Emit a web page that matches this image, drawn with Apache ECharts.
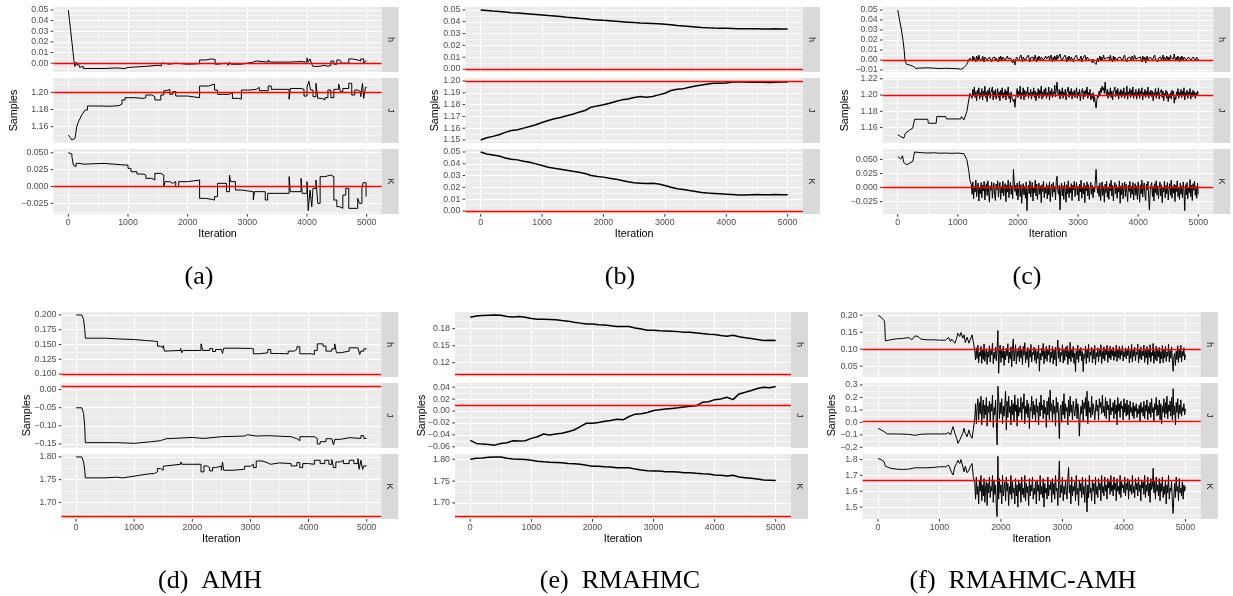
<!DOCTYPE html>
<html><head><meta charset="utf-8">
<script src="https://cdn.jsdelivr.net/npm/echarts@6/dist/echarts.min.js"></script>
<style>html,body{margin:0;padding:0;background:#fff}#c{width:1233px;height:596px}</style>
</head><body><div id="c"></div>
<script>
// ---------------- shared scales ----------------
const iterBreaks = [0, 1000, 2000, 3000, 4000, 5000];
const iterLabels = ['0', '1000', '2000', '3000', '4000', '5000'];
const iterLim = [-250, 5250];
const facetNames = ['h', 'J', 'K'];
const truthTop = [0, 1.2, 0];
const truthBottom = [0.1, 0.01, 1.67];
const captions = ['(a)', '(b)', '(c)', '(d)  AMH', '(e)  RMAHMC', '(f)  RMAHMC-AMH'];

// ---------------- panel (a) : [iteration, value] ----------------
const aH = [[0,0.05],[20,0.04],[40,0.03],[60,0.02],[80,0.01],[95,0.002],[110,-0.003],[130,0.001],[150,-0.002],[170,0.0],[190,-0.004],[210,-0.003],[250,-0.005],[600,-0.0045],[800,-0.005],[950,-0.004],[1000,-0.003],[1300,-0.002],[1500,-0.0025],[1560,0.0],[1600,-0.001],[1700,0.0],[1800,-0.001],[2000,-0.0005],[2200,0.003],[2300,0.004],[2400,0.0035],[2460,-0.001],[2500,0.0],[2650,0.001],[2680,-0.002],[2700,0.001],[2720,-0.001],[2900,0.0],[3000,0.001],[3100,0.002],[3150,0.001],[3350,0.003],[3380,0.001],[3700,0.0015],[3900,0.001],[4000,0.005],[4020,0.001],[4050,0.004],[4080,-0.001],[4100,-0.003],[4200,-0.002],[4300,-0.003],[4350,-0.002],[4400,0.002],[4450,-0.001],[4500,0.003],[4550,0.004],[4580,0.0],[4700,0.004],[4760,0.003],[4850,0.002],[4900,0.004],[4950,0.0],[4980,0.002],[5000,0.002]];
const aJ = [[0,1.1503],[30,1.1475],[60,1.1445],[90,1.1464],[112,1.1455],[125,1.152],[140,1.16],[170,1.1658],[200,1.17],[223,1.1736],[250,1.176],[280,1.1794],[320,1.1841],[500,1.1838],[700,1.1845],[850,1.1864],[900,1.1911],[950,1.1938],[1100,1.193],[1250,1.1938],[1300,1.1969],[1400,1.195],[1450,1.1911],[1550,1.1969],[1600,1.2019],[1650,1.2035],[1700,1.1977],[1750,1.2008],[1800,1.1957],[2000,1.1938],[2200,1.2074],[2350,1.2097],[2450,1.2027],[2500,1.1977],[2700,1.1996],[2750,1.193],[2850,1.1922],[2900,1.2027],[3050,1.2035],[3150,1.2058],[3200,1.2019],[3350,1.2074],[3400,1.2035],[3700,1.192],[3720,1.2045],[3900,1.2035],[3950,1.1957],[4000,1.2058],[4030,1.2132],[4060,1.2027],[4100,1.195],[4150,1.2105],[4180,1.193],[4250,1.1911],[4300,1.1938],[4350,1.2027],[4400,1.1938],[4450,1.2035],[4530,1.2097],[4560,1.2008],[4600,1.2045],[4700,1.2105],[4750,1.1969],[4800,1.2027],[4850,1.2008],[4900,1.195],[4930,1.2105],[4950,1.193],[4980,1.2058],[5000,1.205]];
const aK = [[0,0.05],[30,0.048],[60,0.0441],[85,0.0317],[112,0.0293],[130,0.0342],[195,0.033],[250,0.0342],[600,0.0317],[950,0.0317],[1000,0.0268],[1050,0.0219],[1150,0.0184],[1250,0.0169],[1300,0.012],[1400,0.0095],[1450,0.0194],[1550,0.0169],[1600,-0.0003],[1620,0.0071],[1700,0.0046],[1750,0.0071],[1800,-0.0003],[1850,0.0071],[2000,0.0095],[2200,-0.0176],[2300,-0.0191],[2400,-0.0201],[2450,-0.0151],[2500,0.0046],[2650,-0.0077],[2700,0.017],[2720,0.0071],[2800,-0.0053],[2900,-0.0077],[3100,-0.0201],[3120,-0.0077],[3300,-0.0201],[3340,-0.0102],[3700,0.0145],[3720,-0.0077],[3900,0.012],[3920,-0.0102],[4000,0.0071],[4020,-0.0359],[4050,-0.0053],[4080,-0.03],[4100,-0.0028],[4150,0.0095],[4180,-0.025],[4220,0.0145],[4300,0.017],[4400,0.0145],[4450,-0.0201],[4500,-0.03],[4550,-0.0324],[4600,-0.0127],[4650,-0.0028],[4700,-0.0324],[4850,-0.0176],[4880,-0.025],[4920,-0.0028],[4940,0.0056],[4990,-0.0151],[5000,-0.0151]];

// ---------------- panel (b) : one value every 100 iterations ----------------
const bH = [0.0500,0.0496,0.0491,0.0487,0.0482,0.0477,0.0474,0.0470,0.0466,0.0462,0.0458,0.0453,0.0449,0.0444,0.0439,0.0435,0.0430,0.0426,0.0420,0.0416,0.0412,0.0409,0.0405,0.0401,0.0397,0.0393,0.0390,0.0388,0.0386,0.0383,0.0379,0.0374,0.0368,0.0364,0.0360,0.0356,0.0352,0.0349,0.0347,0.0346,0.0345,0.0343,0.0340,0.0340,0.0341,0.0340,0.0339,0.0339,0.0340,0.0339,0.0339];
const bJ = [1.15,1.152,1.1531,1.1545,1.1565,1.1581,1.1587,1.1601,1.1615,1.1629,1.1649,1.1666,1.168,1.1691,1.1705,1.1719,1.1736,1.175,1.1778,1.1789,1.1798,1.1812,1.1826,1.184,1.1848,1.186,1.1868,1.1862,1.1868,1.1882,1.1896,1.1919,1.193,1.1935,1.1947,1.1958,1.1966,1.1975,1.198,1.198,1.1983,1.1992,1.1994,1.1992,1.1989,1.1992,1.1989,1.1986,1.1989,1.1992,1.1992];
const bK = [0.05,0.0483,0.0475,0.0466,0.0449,0.0438,0.0433,0.0421,0.0413,0.0399,0.0385,0.0371,0.0362,0.0354,0.0346,0.0337,0.0329,0.0317,0.0301,0.0292,0.0287,0.0278,0.027,0.0258,0.0247,0.0239,0.0236,0.0233,0.0236,0.0228,0.0216,0.0202,0.0188,0.0183,0.0174,0.0166,0.0157,0.0152,0.0149,0.0146,0.0143,0.014,0.0135,0.0135,0.0138,0.014,0.0138,0.0138,0.014,0.0138,0.0138];

// ---------------- panel (c) : burn-in [iteration, value], then chain values 1225..5000 ----------------
const cHBurn = [[0,0.05],[30,0.04],[60,0.031],[94,0.017],[110,0.008],[122,-0.001],[140,-0.003],[150,-0.0045],[200,-0.005],[250,-0.006],[300,-0.0083],[400,-0.008],[500,-0.0078],[600,-0.0082],[700,-0.0085],[800,-0.0083],[900,-0.0085],[1000,-0.0087],[1050,-0.0093],[1100,-0.0077],[1150,-0.0044],[1175,-0.001],[1200,0.002]];
const cHChain = [.002,-.001,.004,.000,.003,.001,-.002,.004,.002,.000,.005,.001,-.001,.003,.000,.004,.002,-.002,.003,.001,
.004,.000,.002,-.001,.003,.005,.001,-.002,.002,.004,.000,.003,-.001,.002,.004,.001,-.002,.003,.000,.004,
.002,-.001,.003,.001,.005,.000,.002,-.002,.004,.001,.003,-.001,.002,.000,.004,-.003,.001,-.002,-.005,.000,
.003,.001,.004,-.001,.002,.000,.005,.002,-.002,.003,.001,.004,-.001,.002,.000,.003,.005,.001,-.002,.002,
.004,.000,.003,-.001,.002,.005,.001,-.002,.003,.000,.004,.002,-.001,.003,.001,.005,.000,.002,-.002,.004,
.001,.003,-.001,.004,.000,.002,.005,.001,-.002,.003,.000,.004,.002,-.001,.005,.001,.003,.000,.006,.002,
.004,-.001,.002,.000,.003,.005,.001,-.002,.003,.000,.004,.002,-.001,.003,.001,.004,-.002,.002,.000,.003,
.005,.001,-.001,.003,.000,.002,.004,-.002,.001,.003,.000,.005,.002,-.001,.003,.001,.004,.000,-.002,.002,
.000,-.003,.001,-.002,.000,-.004,-.0045,-.001,.002,-.002,.001,.004,.000,.003,-.001,.002,.005,.001,.003,-.001,
.002,.004,.000,.003,-.001,.005,.001,.002,-.002,.004,.000,.003,.001,.005,-.001,.002,.004,.000,.003,.001,
.004,-.001,.002,.000,.005,.001,.003,-.002,.002,.004,.000,.003,.001,-.001,.004,.002,.000,.005,.005,.001,
.003,-.001,.002,.004,.000,.003,.001,-.002,.004,.002,.000,.003,-.003,.001,.004,.000,.002,-.001,.003,.001,
.004,.000,.002,-.001,.005,.001,.003,.000,-.002,.002,.004,.001,.003,-.001,.002,.005,.000,.003,.001,-.001,
.004,.002,.000,.003,-.001,.005,.002,.000,.004,.001,.006,.002,-.001,.003,.000,.004,.001,-.002,.003,.000,
.004,.002,-.001,.003,.001,.005,.000,.002,-.002,.003,.001,.004,.000,.002,-.001,.003,.001,.004,.000,.002,
.003,-.001,.001];
const cJBurn = [[0,1.151],[50,1.149],[100,1.1469],[120,1.1449],[130,1.1531],[150,1.1551],[200,1.1571],[250,1.1592],[280,1.1702],[500,1.1702],[510,1.1653],[640,1.1653],[650,1.1735],[800,1.1735],[810,1.1706],[1050,1.1706],[1060,1.1735],[1100,1.1694],[1150,1.1796],[1200,1.202]];
const cJChain = [1.203,1.196,1.207,1.199,1.210,1.197,1.204,1.193,1.206,1.201,1.209,1.195,1.203,1.198,1.208,1.194,1.205,1.200,1.211,1.197,
1.204,1.192,1.206,1.199,1.209,1.196,1.203,1.201,1.210,1.194,1.205,1.198,1.207,1.195,1.202,1.208,1.197,1.204,1.193,1.206,
1.200,1.209,1.196,1.203,1.198,1.207,1.194,1.205,1.199,1.210,1.196,1.202,1.191,1.204,1.197,1.199,1.192,1.195,1.185,1.196,
1.202,1.208,1.197,1.205,1.200,1.211,1.195,1.203,1.199,1.209,1.194,1.206,1.198,1.204,1.201,1.210,1.196,1.203,1.199,1.207,
1.195,1.204,1.200,1.209,1.197,1.205,1.193,1.203,1.199,1.208,1.196,1.206,1.201,1.211,1.195,1.204,1.198,1.207,1.200,1.209,
1.196,1.203,1.199,1.210,1.194,1.205,1.200,1.208,1.197,1.204,1.201,1.212,1.198,1.206,1.216,1.203,1.199,1.207,1.195,1.205,
1.200,1.209,1.196,1.204,1.199,1.207,1.194,1.203,1.201,1.210,1.197,1.205,1.199,1.208,1.195,1.204,1.200,1.206,1.197,1.203,
1.209,1.196,1.204,1.199,1.207,1.193,1.202,1.200,1.208,1.195,1.205,1.198,1.206,1.201,1.210,1.196,1.203,1.199,1.207,1.194,
1.201,1.196,1.203,1.192,1.198,1.190,1.184,1.193,1.200,1.197,1.205,1.199,1.208,1.203,1.211,1.206,1.209,1.202,1.216,1.205,
1.199,1.207,1.196,1.204,1.200,1.209,1.197,1.205,1.194,1.203,1.201,1.210,1.198,1.206,1.200,1.208,1.195,1.204,1.199,1.207,
1.197,1.205,1.200,1.209,1.196,1.203,1.199,1.211,1.195,1.204,1.201,1.208,1.197,1.206,1.199,1.210,1.196,1.203,1.200,1.207,
1.195,1.204,1.199,1.208,1.196,1.205,1.201,1.209,1.194,1.203,1.200,1.207,1.197,1.205,1.199,1.210,1.196,1.204,1.200,1.206,
1.198,1.205,1.193,1.203,1.200,1.208,1.196,1.204,1.199,1.209,1.195,1.203,1.201,1.207,1.197,1.205,1.193,1.202,1.199,1.206,
1.196,1.204,1.192,1.201,1.197,1.203,1.195,1.206,1.199,1.205,1.190,1.198,1.194,1.204,1.200,1.208,1.196,1.203,1.199,1.207,
1.197,1.205,1.200,1.209,1.194,1.203,1.199,1.206,1.196,1.204,1.201,1.208,1.195,1.203,1.198,1.206,1.200,1.204,1.196,1.203,
1.199,1.205,1.201];
const cKBurn = [[0,0.0554],[50,0.0506],[80,0.0565],[100,0.0446],[150,0.0405],[180,0.0375],[200,0.0435],[250,0.0464],[280,0.0631],[400,0.062],[500,0.0613],[600,0.0618],[700,0.061],[800,0.0613],[900,0.0608],[1000,0.0613],[1100,0.0601],[1150,0.0494],[1180,0.0315],[1200,0.0137]];
const cKChain = [.005,-.012,.010,-.020,.002,-.008,.013,-.016,-.003,.008,-.024,.001,-.011,.009,-.018,.004,-.006,.011,-.022,-.001,
.007,-.014,.012,-.009,-.026,.003,-.005,.010,-.019,.000,.008,-.013,-.023,.006,-.004,.012,-.017,-.002,.009,-.021,
.002,-.010,.011,-.015,-.003,.007,-.025,.004,-.008,.013,-.018,-.001,.009,-.012,.003,-.020,.032,.010,-.007,.004,
-.014,.008,-.022,-.002,.011,-.016,.005,-.028,-.004,.007,-.013,.002,-.019,.010,-.041,-.006,.004,-.011,.012,-.017,
-.003,.009,-.024,.001,-.009,.013,-.015,.006,-.021,-.002,.008,-.012,.003,-.027,.005,-.007,.011,-.018,.000,-.010,
.007,-.020,.004,-.013,.010,-.025,-.001,.006,-.016,.009,-.008,.002,-.022,.011,.020,-.005,-.012,.004,-.040,-.003,
.008,-.015,.003,-.021,.010,-.007,-.026,.005,-.011,.012,-.018,.001,-.009,.007,-.023,.004,-.004,.011,-.016,-.001,
.009,-.013,.002,-.024,.006,-.008,.013,-.019,.000,-.011,.008,-.027,.003,-.006,.010,-.015,.005,-.021,-.002,.009,
-.012,.004,-.018,.001,-.008,.012,.032,.006,-.010,.003,-.016,.008,-.023,-.004,.010,-.014,.002,-.026,.006,-.009,
.011,-.017,.000,-.021,.007,-.006,.013,-.015,.004,-.024,-.002,.009,-.011,.005,-.019,.001,-.008,.012,-.028,.003,
-.013,.008,-.020,-.001,.010,-.016,.006,-.009,-.025,.004,-.007,.011,-.018,.002,-.012,.009,-.022,-.003,.007,-.014,
.003,-.021,.010,-.008,-.026,.005,-.011,.013,-.017,.000,.008,-.014,-.023,.006,-.004,.011,-.019,-.040,-.006,.004,
.009,-.016,.002,-.024,.007,-.009,.012,-.013,.003,-.020,-.002,.010,-.015,.005,-.027,.001,-.008,.011,-.018,.004,
-.011,.009,-.022,-.003,.007,-.014,.013,-.019,.002,-.010,.006,-.025,.004,-.007,.012,-.016,.000,-.021,.008,-.012,
.003,-.018,.010,-.006,-.041,.005,-.013,.009,-.020,.001,-.009,.014,-.016,.004,-.023,.007,-.005,.011,-.014,.002,
-.019,.008,-.012];
const cChainStart = 1225;

// ---------------- panel (d) AMH : [iteration, value] ----------------
const dH = [[0,0.2],[100,0.1989],[130,0.1921],[150,0.1753],[160,0.1607],[500,0.1596],[700,0.1584],[1000,0.1567],[1200,0.1556],[1350,0.1551],[1400,0.1472],[1450,0.1444],[1500,0.1483],[1520,0.1388],[1550,0.1399],[1800,0.1433],[1820,0.136],[1840,0.1399],[2150,0.1511],[2180,0.1399],[2300,0.1433],[2350,0.1382],[2400,0.1416],[2500,0.1438],[2520,0.1348],[2540,0.1438],[2750,0.1433],[3000,0.1427],[3050,0.1343],[3150,0.136],[3300,0.1416],[3350,0.1348],[3500,0.1343],[3650,0.1388],[3750,0.1416],[3800,0.1461],[3850,0.1343],[4050,0.1331],[4100,0.1399],[4150,0.1511],[4250,0.1472],[4300,0.1388],[4400,0.1427],[4450,0.1511],[4480,0.136],[4550,0.1388],[4700,0.1444],[4850,0.1427],[4880,0.1331],[4900,0.1388],[4950,0.1427],[5000,0.1427]];
const dJ = [[0,-0.0503],[100,-0.0531],[130,-0.0659],[150,-0.1024],[160,-0.1463],[700,-0.1482],[1000,-0.1436],[1300,-0.1409],[1450,-0.1354],[1550,-0.1335],[1800,-0.1317],[2000,-0.1335],[2100,-0.1345],[2200,-0.1299],[2500,-0.128],[2900,-0.1244],[2950,-0.128],[3100,-0.1271],[3300,-0.1299],[3700,-0.1354],[3800,-0.1409],[3850,-0.1299],[4100,-0.1345],[4150,-0.15],[4200,-0.1436],[4300,-0.1354],[4400,-0.1372],[4430,-0.1527],[4450,-0.1372],[4550,-0.1326],[4700,-0.1345],[4900,-0.1271],[4950,-0.1345],[5000,-0.1354]];
const dK = [[0,1.8],[100,1.7985],[130,1.789],[150,1.7708],[160,1.754],[500,1.7555],[700,1.754],[800,1.7577],[1000,1.7599],[1100,1.7628],[1250,1.7635],[1350,1.7672],[1400,1.7745],[1450,1.7708],[1500,1.7796],[1530,1.7839],[1800,1.789],[1820,1.7839],[2150,1.7672],[2200,1.7803],[2250,1.7766],[2300,1.7693],[2350,1.7766],[2400,1.7796],[2500,1.7708],[2520,1.789],[2540,1.7708],[2700,1.773],[2900,1.7796],[3000,1.7839],[3050,1.7766],[3100,1.7912],[3200,1.7869],[3300,1.7839],[3350,1.7869],[3500,1.7854],[3700,1.7803],[3800,1.7876],[3850,1.7766],[3900,1.7854],[4000,1.7839],[4100,1.7927],[4200,1.7854],[4280,1.7927],[4350,1.7839],[4400,1.7942],[4430,1.7766],[4470,1.789],[4550,1.7927],[4600,1.7854],[4700,1.7927],[4780,1.7854],[4850,1.7964],[4870,1.773],[4900,1.7927],[4930,1.7723],[4950,1.7803],[5000,1.7803]];

// ---------------- panel (e) RMAHMC : one value every 100 iterations ----------------
const eH = [0.2002,0.2025,0.2031,0.2037,0.2042,0.2037,0.2013,0.2008,0.2013,0.2002,0.1979,0.1967,0.1967,0.1962,0.1956,0.1944,0.1933,0.1915,0.1898,0.1881,0.1881,0.1869,0.1863,0.1852,0.184,0.184,0.184,0.1812,0.1794,0.1771,0.1771,0.1765,0.176,0.1754,0.1748,0.1737,0.1737,0.1725,0.1713,0.1702,0.1696,0.1679,0.1667,0.1685,0.1656,0.1638,0.1627,0.161,0.1592,0.1598,0.1592];
const eJ = [-0.0493,-0.0543,-0.0555,-0.056,-0.0572,-0.0543,-0.0532,-0.0498,-0.0504,-0.0498,-0.0459,-0.0431,-0.0385,-0.0402,-0.0385,-0.0374,-0.0346,-0.0318,-0.0261,-0.0205,-0.0205,-0.0193,-0.0171,-0.0159,-0.0137,-0.0148,-0.0092,-0.0052,-0.0046,-0.0024,0.001,0.0021,0.0033,0.0044,0.0055,0.0067,0.0078,0.0089,0.0146,0.0157,0.0191,0.0202,0.023,0.0191,0.0287,0.0315,0.0344,0.0377,0.04,0.0389,0.0411];
const eK = [1.8,1.8023,1.803,1.8045,1.8053,1.8053,1.8023,1.8008,1.8,1.7992,1.7977,1.7955,1.794,1.7932,1.7925,1.7917,1.7902,1.7895,1.7887,1.7865,1.7842,1.7842,1.7827,1.782,1.7805,1.7805,1.7805,1.7774,1.7752,1.7737,1.7729,1.7729,1.7714,1.7714,1.7707,1.7692,1.7692,1.7677,1.7669,1.7662,1.7639,1.7632,1.7617,1.7632,1.7594,1.7579,1.7564,1.7549,1.7526,1.7519,1.7511];

// ---------------- panel (f) RMAHMC-AMH : burn-in pairs, then chain values 1575..5000 ----------------
const fHBurn = [[0,0.2],[50,0.1941],[100,0.1843],[110,0.1765],[120,0.1245],[150,0.1294],[200,0.1275],[300,0.1304],[400,0.1314],[500,0.1343],[550,0.1275],[600,0.1392],[650,0.1373],[700,0.1294],[800,0.1275],[900,0.1275],[1000,0.1265],[1100,0.1265],[1150,0.1343],[1180,0.1225],[1200,0.1294],[1250,0.1176],[1280,0.1324],[1300,0.147],[1330,0.1373],[1350,0.149],[1380,0.1324],[1400,0.1422],[1420,0.1196],[1450,0.1353],[1480,0.1176],[1500,0.1275],[1530,0.1422],[1550,0.1225]];
const fHChain = [.095,.068,.104,.073,.112,.060,.090,.079,.108,.058,.097,.070,.115,.064,.087,.101,.055,.093,.076,.110,
.062,.098,.083,.118,.057,.091,.072,.106,.066,.100,.155,.029,.088,.112,.061,.096,.074,.109,.052,.094,
.069,.103,.080,.116,.059,.092,.071,.107,.048,.099,.130,.065,.089,.113,.056,.095,.078,.104,.063,.110,
.074,.097,.054,.108,.082,.119,.060,.093,.070,.105,.047,.098,.076,.114,.062,.090,.084,.106,.066,.101,
.058,.094,.072,.111,.035,.088,.068,.103,.079,.117,.057,.095,.071,.108,.064,.099,.083,.112,.061,.092,
.075,.109,.056,.097,.069,.106,.050,.096,.127,.073,.104,.062,.091,.081,.113,.059,.098,.067,.105,.078,
.110,.055,.094,.071,.120,.063,.100,.076,.108,.058,.089,.034,.095,.070,.112,.061,.097,.080,.105,.066,
.093,.034,.086,.073,.109,.057,.099,.075,.114,.062,.092,.082,.106,.060,.097,.071,.111,.054,.090,.077,
.104,.063,.096,.079,.113,.058,.093,.072,.107,.066,.100,.083,.111,.061,.095,.074,.109,.069,.098,.080,
.106,.067,.094,.078,.112,.064,.099,.075,.108,.070,.096,.082,.110,.065,.093,.077,.104,.071,.101,.081,
.109,.060,.095,.073,.114,.062,.097,.079,.106,.066,.092,.084,.115,.059,.098,.072,.107,.068,.094,.080,
.112,.061,.096,.074,.108,.055,.099,.076,.113,.063,.090,.081,.117,.058,.094,.070,.109,.065,.101,.077,
.105,.058,.093,.071,.111,.060,.099,.074,.108,.064,.092,.079,.114,.062,.096,.073,.107,.066,.035,.078,
.088,.052,.094,.069,.110,.061,.097,.075,.112,.063,.093,.080,.104,.068,.084];
const fJBurn = [[0,-0.0468],[50,-0.0602],[100,-0.0737],[150,-0.0925],[300,-0.0925],[500,-0.0952],[600,-0.1032],[700,-0.0952],[800,-0.0925],[1100,-0.0925],[1150,-0.0817],[1180,-0.1005],[1200,-0.0656],[1220,-0.0333],[1250,-0.0871],[1280,-0.1274],[1300,-0.1677],[1330,-0.1409],[1350,-0.1543],[1380,-0.0871],[1400,-0.0468],[1420,-0.0871],[1450,-0.114],[1480,-0.06],[1500,-0.1005],[1530,-0.1274],[1550,-0.06]];
const fJChain = [.040,.150,-.010,.120,.190,.020,.160,.070,.210,-.020,.110,.180,.030,.140,.060,.200,-.030,.130,.080,.170,
.010,.150,.090,.220,-.040,.120,.060,.180,.000,-.180,.290,.200,.030,.160,.070,.190,-.010,.130,.050,.140,
.250,-.060,.170,.040,.210,.080,.130,-.020,.180,.060,.150,.010,.220,.090,.140,-.030,.190,.050,.120,.080,
.200,.020,.160,.110,.230,-.010,.130,.070,.180,.040,.150,-.050,.120,.090,.210,.030,.170,.060,.140,.010,
.190,.080,.130,-.020,.160,.050,.220,.100,.140,.030,.180,.070,.120,-.040,.170,.060,.200,.020,.260,.090,
.150,.010,.180,.070,.130,-.030,.200,.080,.160,.040,-.130,.110,.140,.000,.170,.060,.230,.030,.150,.090,
.120,-.020,.180,.050,.210,.080,.140,.020,.170,.100,.050,.060,.190,.030,.150,.090,-.110,.040,.130,.070,
.180,.010,.160,.110,.200,.050,.250,-.010,.170,.080,.120,.040,.210,.060,.150,.100,.020,.030,.180,.090,
.140,.020,.190,.120,.160,.070,.220,.080,.130,.050,.200,.030,.170,.100,.140,.010,.190,.060,.120,.090,
.160,.030,.180,.070,.140,-.020,.200,.090,.150,.040,.170,.110,.130,.020,.190,.080,.150,.050,.180,.060,
.140,.020,.170,.080,.120,.050,.160,.030,.130,.090,.150,.040,.110,.070,.140,.010,.160,.080,.120,.050,
.170,.030,.140,.090,.180,.020,.130,.070,.160,.040,.190,.080,.120,.010,.150,.100,.200,.050,.140,.060,
.180,.020,.150,-.010,.130,.080,.190,.040,.160,.070,.210,.030,.140,.090,.170,.050,.200,.020,.270,.060,
.130,-.020,.160,.080,.190,.030,.140,.070,.180,.050,.120,.090,.150,.060,.110];
const fKBurn = [[0,1.8063],[50,1.8],[100,1.7854],[120,1.7583],[150,1.7479],[200,1.7458],[300,1.7396],[400,1.7375],[500,1.7396],[600,1.7479],[800,1.7479],[900,1.75],[1000,1.7542],[1100,1.7542],[1150,1.7646],[1180,1.7542],[1200,1.7167],[1220,1.7021],[1250,1.7542],[1280,1.775],[1300,1.7958],[1330,1.775],[1350,1.8],[1380,1.7542],[1400,1.7229],[1420,1.7583],[1450,1.7167],[1480,1.7333],[1500,1.7542],[1530,1.775],[1550,1.6917]];
const fKChain = [1.650,1.550,1.690,1.580,1.630,1.520,1.670,1.600,1.700,1.540,1.640,1.570,1.680,1.530,1.620,1.660,1.510,1.650,1.590,1.690,
1.560,1.630,1.600,1.700,1.530,1.670,1.580,1.640,1.500,1.440,1.820,1.550,1.680,1.590,1.640,1.520,1.700,1.570,1.620,1.660,
1.540,1.690,1.600,1.650,1.510,1.630,1.580,1.700,1.550,1.660,1.590,1.620,1.520,1.680,1.570,1.640,1.500,1.670,1.600,1.650,
1.530,1.690,1.580,1.620,1.560,1.700,1.540,1.650,1.590,1.630,1.510,1.680,1.570,1.640,1.600,1.690,1.550,1.620,1.580,1.660,
1.520,1.670,1.600,1.640,1.540,1.700,1.580,1.630,1.560,1.680,1.500,1.650,1.590,1.620,1.550,1.690,1.570,1.640,1.610,1.660,
1.530,1.680,1.580,1.650,1.550,1.700,1.600,1.620,1.510,1.660,1.790,1.560,1.640,1.590,1.690,1.540,1.630,1.580,1.670,1.600,
1.550,1.680,1.750,1.590,1.640,1.520,1.690,1.570,1.630,1.600,1.660,1.540,1.700,1.580,1.620,1.510,1.670,1.600,1.650,1.560,
1.690,1.580,1.630,1.530,1.680,1.600,1.470,1.640,1.560,1.700,1.590,1.620,1.540,1.670,1.600,1.650,1.520,1.690,1.580,1.630,
1.560,1.680,1.610,1.650,1.540,1.700,1.590,1.630,1.570,1.690,1.600,1.640,1.550,1.680,1.620,1.660,1.580,1.700,1.600,1.640,
1.570,1.690,1.610,1.650,1.540,1.680,1.600,1.630,1.580,1.700,1.560,1.660,1.620,1.640,1.590,1.690,1.570,1.650,1.610,1.680,
1.550,1.670,1.600,1.640,1.580,1.700,1.590,1.630,1.560,1.680,1.610,1.650,1.570,1.690,1.600,1.640,1.540,1.670,1.620,1.660,
1.580,1.700,1.560,1.640,1.600,1.690,1.570,1.650,1.530,1.680,1.610,1.630,1.745,1.590,1.660,1.550,1.690,1.600,1.640,1.570,
1.680,1.540,1.650,1.600,1.690,1.560,1.630,1.580,1.670,1.520,1.640,1.590,1.700,1.550,1.620,1.600,1.660,1.530,1.460,1.580,
1.650,1.560,1.690,1.600,1.630,1.540,1.680,1.590,1.620,1.570,1.660,1.550,1.640,1.600,1.630];
const fChainStart = 1575;

// ---------------- y scales (limits, breaks, labels) ----------------
const aHLim=[-0.0083,0.0528], aHBreaks=[0,0.01,0.02,0.03,0.04,0.05], aHLabels=['0.00','0.01','0.02','0.03','0.04','0.05'];
const aJLim=[1.141,1.2167], aJBreaks=[1.16,1.18,1.2], aJLabels=['1.16','1.18','1.20'];
const aKLim=[-0.0408,0.0555], aKBreaks=[-0.025,0,0.025,0.05], aKLabels=['\u22120.025','0.000','0.025','0.050'];
const bHLim=[-0.0025,0.0525], bHBreaks=[0,0.01,0.02,0.03,0.04,0.05], bHLabels=['0.00','0.01','0.02','0.03','0.04','0.05'];
const bJLim=[1.1475,1.2025], bJBreaks=[1.15,1.16,1.17,1.18,1.19,1.2], bJLabels=['1.15','1.16','1.17','1.18','1.19','1.20'];
const bKLim=[-0.0025,0.0525], bKBreaks=[0,0.01,0.02,0.03,0.04,0.05], bKLabels=['0.00','0.01','0.02','0.03','0.04','0.05'];
const cHLim=[-0.012,0.053], cHBreaks=[-0.01,0,0.01,0.02,0.03,0.04,0.05], cHLabels=['\u22120.01','0.00','0.01','0.02','0.03','0.04','0.05'];
const cJLim=[1.141,1.221], cJBreaks=[1.16,1.18,1.2,1.22], cJLabels=['1.16','1.18','1.20','1.22'];
const cKLim=[-0.047,0.0685], cKBreaks=[-0.025,0,0.025,0.05], cKLabels=['\u22120.025','0.000','0.025','0.050'];
const dHLim=[0.095,0.205], dHBreaks=[0.1,0.125,0.15,0.175,0.2], dHLabels=['0.100','0.125','0.150','0.175','0.200'];
const dJLim=[-0.161,0.018], dJBreaks=[-0.15,-0.1,-0.05,0], dJLabels=['\u22120.15','\u22120.10','\u22120.05','0.00'];
const dKLim=[1.6635,1.8065], dKBreaks=[1.7,1.75,1.8], dKLabels=['1.70','1.75','1.80'];
const eHLim=[0.0948,0.2094], eHBreaks=[0.12,0.15,0.18], eHLabels=['0.12','0.15','0.18'];
const eJLim=[-0.062,0.047], eJBreaks=[-0.06,-0.04,-0.02,0,0.02,0.04], eJLabels=['\u22120.06','\u22120.04','\u22120.02','0.00','0.02','0.04'];
const eKLim=[1.6632,1.812], eKBreaks=[1.7,1.75,1.8], eKLabels=['1.70','1.75','1.80'];
const fHLim=[0.018,0.2095], fHBreaks=[0.05,0.1,0.15,0.2], fHLabels=['0.05','0.10','0.15','0.20'];
const fJLim=[-0.205,0.316], fJBreaks=[-0.2,-0.1,0,0.1,0.2,0.3], fJLabels=['\u22120.2','\u22120.1','0.0','0.1','0.2','0.3'];
const fKLim=[1.425,1.835], fKBreaks=[1.5,1.6,1.7,1.8], fKLabels=['1.5','1.6','1.7','1.8'];

// ---------------- helpers to assemble data for the library ----------------
function every100(vals) { return vals.map((v, i) => [i * 100, v]); }
function chained(burn, start, vals) {
  const n = vals.length, st = (5000 - start) / (n - 1);
  return burn.concat(vals.map((v, i) => [start + i * st, v]));
}
function minorOf(br, lim) {
  const out = [];
  const s = br.length > 1 ? br[1] - br[0] : 0;
  const ext = [br[0] - s].concat(br, [br[br.length - 1] + s]);
  for (let i = 0; i < ext.length - 1; i++) {
    const m = (ext[i] + ext[i + 1]) / 2;
    if (m >= lim[0] && m <= lim[1]) out.push(m);
  }
  return out;
}

const panels = [
  { id: 'a', step: true, lw: 1, truth: truthTop, data: [aH, aJ, aK],
    y: [[aHLim, aHBreaks, aHLabels], [aJLim, aJBreaks, aJLabels], [aKLim, aKBreaks, aKLabels]] },
  { id: 'b', step: false, lw: 1.5, truth: truthTop, data: [every100(bH), every100(bJ), every100(bK)],
    y: [[bHLim, bHBreaks, bHLabels], [bJLim, bJBreaks, bJLabels], [bKLim, bKBreaks, bKLabels]] },
  { id: 'c', step: false, lw: 1, truth: truthTop,
    data: [chained(cHBurn, cChainStart, cHChain), chained(cJBurn, cChainStart, cJChain), chained(cKBurn, cChainStart, cKChain)],
    y: [[cHLim, cHBreaks, cHLabels], [cJLim, cJBreaks, cJLabels], [cKLim, cKBreaks, cKLabels]] },
  { id: 'd', step: true, lw: 1, truth: truthBottom, data: [dH, dJ, dK],
    y: [[dHLim, dHBreaks, dHLabels], [dJLim, dJBreaks, dJLabels], [dKLim, dKBreaks, dKLabels]] },
  { id: 'e', step: false, lw: 1.5, truth: truthBottom, data: [every100(eH), every100(eJ), every100(eK)],
    y: [[eHLim, eHBreaks, eHLabels], [eJLim, eJBreaks, eJLabels], [eKLim, eKBreaks, eKLabels]] },
  { id: 'f', step: false, lw: 1, truth: truthBottom,
    data: [chained(fHBurn, fChainStart, fHChain), chained(fJBurn, fChainStart, fJChain), chained(fKBurn, fChainStart, fKChain)],
    y: [[fHLim, fHBreaks, fHLabels], [fJLim, fJBreaks, fJLabels], [fKLim, fKBreaks, fKLabels]] }
];

// ---------------- layout (pixels) ----------------
const LAYOUT = {
  a: { x0: 53.4, x1: 381.6, top: 7,   samplesX: 14,    capX: 199,  capY: 277 },
  b: { x0: 465.3, x1: 803.0, top: 7,  samplesX: 435,   capX: 620,  capY: 277 },
  c: { x0: 882.7, x1: 1213.3, top: 7, samplesX: 845,   capX: 1027, capY: 277 },
  d: { x0: 61.5, x1: 381.2, top: 312, samplesX: 27,    capX: 210,  capY: 581 },
  e: { x0: 455.0, x1: 791.0, top: 312, samplesX: 421.7, capX: 620, capY: 581 },
  f: { x0: 862.6, x1: 1200.8, top: 312, samplesX: 831.7, capX: 1023, capY: 581 }
};
const FH = 65, GAP = 6, STRIP = 17, TICK = 2.7;
const SANS = '"Liberation Sans", Arial, Helvetica, sans-serif';
const SERIF = '"Liberation Serif", "DejaVu Serif", serif';
const TICK_COL = '#4D4D4D';

const option = { animation: false, backgroundColor: '#ffffff', grid: [], xAxis: [], yAxis: [], series: [], graphic: { elements: [] } };
const G = option.graphic.elements;
const iterMinor = minorOf(iterBreaks, iterLim);
const tickJobs = [];

panels.forEach((p, pi) => {
  const L = LAYOUT[p.id];
  p.y.forEach((ys, k) => {
    const [lim, br, lb] = ys;
    const top = L.top + k * (FH + GAP);
    const gi = option.grid.length;
    option.grid.push({ left: L.x0, top: top, width: L.x1 - L.x0, height: FH, show: true,
      backgroundColor: '#EBEBEB', borderWidth: 0, containLabel: false });
    const bottom = k === 2;
    const xi = option.xAxis.length;
    option.xAxis.push({ type: 'value', gridIndex: gi, min: iterLim[0], max: iterLim[1], position: 'bottom',
      axisLine: { show: false, onZero: false },
      axisTick: { show: false, customValues: iterBreaks },
      axisLabel: { show: bottom, customValues: iterBreaks, fontSize: 8.8, color: TICK_COL, margin: 4.5, fontFamily: SANS,
        formatter: v => { const i = iterBreaks.findIndex(b => Math.abs(b - v) < 1e-6); return i >= 0 ? iterLabels[i] : ''; } },
      splitLine: { show: true, lineStyle: { color: '#ffffff', width: 1 } } });
    option.xAxis.push({ type: 'value', gridIndex: gi, min: iterLim[0], max: iterLim[1], position: 'top',
      axisLine: { show: false, onZero: false }, axisTick: { show: false, customValues: iterMinor },
      axisLabel: { show: false, customValues: iterMinor },
      splitLine: { show: true, lineStyle: { color: '#ffffff', width: 0.5 } } });
    const yi = option.yAxis.length;
    const mn = minorOf(br, lim);
    option.yAxis.push({ type: 'value', gridIndex: gi, min: lim[0], max: lim[1], position: 'left',
      axisLine: { show: false, onZero: false },
      axisTick: { show: false, customValues: br },
      axisLabel: { show: true, customValues: br, fontSize: 8.8, color: TICK_COL, margin: 5, fontFamily: SANS,
        formatter: v => { const i = br.findIndex(b => Math.abs(b - v) < 1e-9); return i >= 0 ? lb[i] : ''; } },
      splitLine: { show: true, lineStyle: { color: '#ffffff', width: 1 } } });
    option.yAxis.push({ type: 'value', gridIndex: gi, min: lim[0], max: lim[1], position: 'right',
      axisLine: { show: false, onZero: false }, axisTick: { show: false, customValues: mn },
      axisLabel: { show: false, customValues: mn },
      splitLine: { show: true, lineStyle: { color: '#ffffff', width: 0.5 } } });
    option.series.push({ type: 'line', xAxisIndex: xi, yAxisIndex: yi, data: p.data[k],
      step: p.step ? 'end' : false, symbol: 'none', showSymbol: false, silent: true, z: 3,
      lineStyle: { color: '#000000', width: p.lw },
      markLine: { silent: true, symbol: ['none', 'none'], label: { show: false }, animation: false,
        lineStyle: { color: '#FF0000', width: 1.3, type: 'solid' }, emphasis: { disabled: true },
        data: [{ yAxis: p.truth[k] }] } });
    tickJobs.push({ xi, yi, br, lim, bottom });
    // facet strip
    G.push({ type: 'rect', silent: true, shape: { x: L.x1, y: top, width: STRIP, height: FH }, style: { fill: '#D9D9D9' } });
    G.push({ type: 'text', silent: true, x: L.x1 + STRIP / 2, y: top + FH / 2, rotation: -Math.PI / 2,
      style: { text: facetNames[k], fill: '#1A1A1A', font: '9px ' + SANS, align: 'center', verticalAlign: 'middle' } });
  });
  const midY = L.top + (3 * FH + 2 * GAP) / 2;
  G.push({ type: 'text', silent: true, x: L.samplesX, y: midY, rotation: Math.PI / 2,
    style: { text: 'Samples', fill: '#000000', font: '10.7px ' + SANS, align: 'center', verticalAlign: 'middle' } });
  G.push({ type: 'text', silent: true, x: (L.x0 + L.x1) / 2, y: L.top + 3 * FH + 2 * GAP + 20,
    style: { text: 'Iteration', fill: '#000000', font: '10.7px ' + SANS, align: 'center', verticalAlign: 'middle' } });
  G.push({ type: 'text', silent: true, x: L.capX, y: L.capY,
    style: { text: captions[pi], fill: '#000000', font: '26px ' + SERIF, align: 'center', verticalAlign: 'middle' } });
});

const chart = echarts.init(document.getElementById('c'), null, { renderer: 'canvas' });
chart.setOption(option);

// axis tick marks, placed through the library's own scales
const tickEls = [];
tickJobs.forEach(t => {
  t.br.forEach(b => {
    const pt = chart.convertToPixel({ xAxisIndex: t.xi, yAxisIndex: t.yi }, [iterLim[0], b]);
    if (!pt) return;
    tickEls.push({ type: 'line', silent: true, shape: { x1: pt[0] - TICK, y1: pt[1], x2: pt[0], y2: pt[1] },
      style: { stroke: '#333333', lineWidth: 1 } });
  });
  if (t.bottom) {
    iterBreaks.forEach(b => {
      const pt = chart.convertToPixel({ xAxisIndex: t.xi, yAxisIndex: t.yi }, [b, t.lim[0]]);
      if (!pt) return;
      tickEls.push({ type: 'line', silent: true, shape: { x1: pt[0], y1: pt[1], x2: pt[0], y2: pt[1] + TICK },
        style: { stroke: '#333333', lineWidth: 1 } });
    });
  }
});
chart.setOption({ graphic: { elements: G.concat(tickEls) } });
</script></body></html>
